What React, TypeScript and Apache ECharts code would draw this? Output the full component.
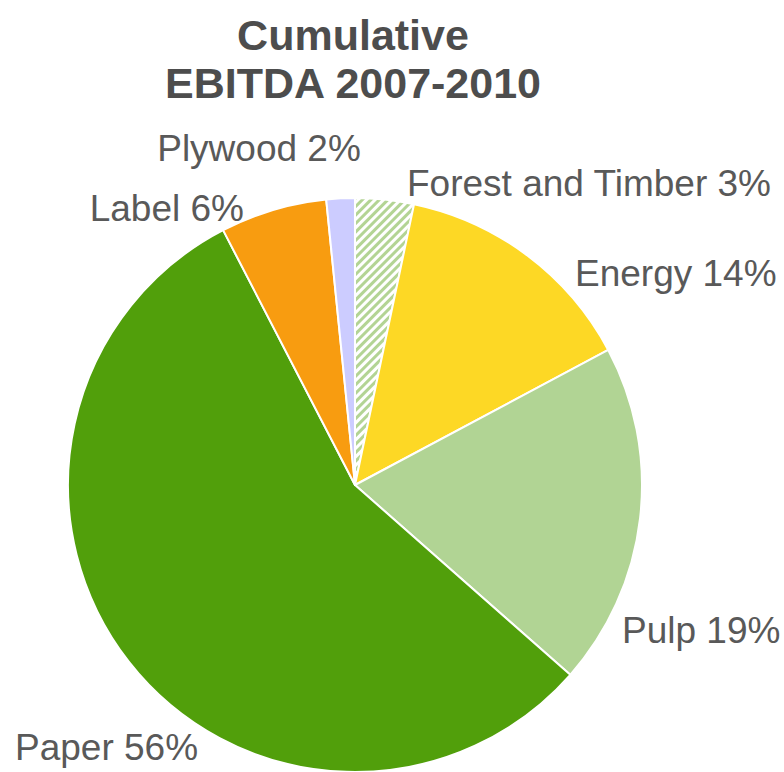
import React, { useEffect, useRef } from "react";
import * as echarts from "echarts";

const categories = ["Forest and Timber", "Energy", "Pulp", "Paper", "Label", "Plywood"];
const values = [3.3, 13.9, 19.3, 55.9, 6.0, 1.6];
const colors = ["#b3d494", "#fdd825", "#b1d494", "#519f0b", "#f89c10", "#ccccff"];
const titleLines = ["Cumulative", "EBITDA 2007-2010"];

// label placement (style)
const labelPos: Record<string, { x: number; y: number; align: string }> = {
  "Forest and Timber": { x: 407, y: 183, align: "left" },
  Energy: { x: 575, y: 273, align: "left" },
  Pulp: { x: 622, y: 630, align: "left" },
  Paper: { x: 15, y: 747, align: "left" },
  Label: { x: 244, y: 208, align: "right" },
  Plywood: { x: 259, y: 148, align: "center" },
};

const FONT = "'Liberation Sans', Arial, sans-serif";

export default function App() {
  const ref = useRef<HTMLDivElement>(null);
  useEffect(() => {
    if (!ref.current) return;
    const chart = echarts.init(ref.current, null, { renderer: "svg" });
    const data = categories.map((name, i) => {
      const item: any = {
        name,
        value: values[i],
        itemStyle: { color: colors[i] },
      };
      if (i === 0) {
        item.itemStyle = {
          color: "#ffffff",
          decal: {
            symbol: "rect",
            color: colors[i],
            backgroundColor: "#ffffff",
            dashArrayX: [1, 0],
            dashArrayY: [3, 3],
            rotation: -Math.PI / 4,
          },
        };
      }
      return item;
    });
    chart.setOption({
      animation: false,
      title: {
        text: titleLines.join("\n"),
        left: 348,
        textAlign: "center",
        top: 6,
        textStyle: {
          fontFamily: FONT,
          fontSize: 43,
          fontWeight: "bold",
          color: "#4d4d4d",
          lineHeight: 48,
        },
      },
      series: [
        {
          type: "pie",
          center: [355, 485],
          radius: 287,
          startAngle: 90,
          clockwise: true,
          data,
          itemStyle: { borderColor: "#ffffff", borderWidth: 2 },
          label: {
            show: true,
            position: "outside",
            fontFamily: FONT,
            fontSize: 37,
            color: "#595959",
            overflow: "none",
            formatter: (p: any) => `${p.name} ${Math.round(p.percent)}%`,
          },
          labelLine: { show: false },
          labelLayout: (params: any) => {
            const name = categories[params.dataIndex];
            const pos = labelPos[name];
            return {
              x: pos.x,
              y: pos.y,
              align: pos.align,
              verticalAlign: "middle",
              hideOverlap: false,
              moveOverlap: false,
            };
          },
        },
      ],
    });
    return () => chart.dispose();
  }, []);
  return (
    <div
      ref={ref}
      style={{ position: "fixed", left: 0, top: 0, width: 784, height: 772, background: "#ffffff" }}
    />
  );
}
